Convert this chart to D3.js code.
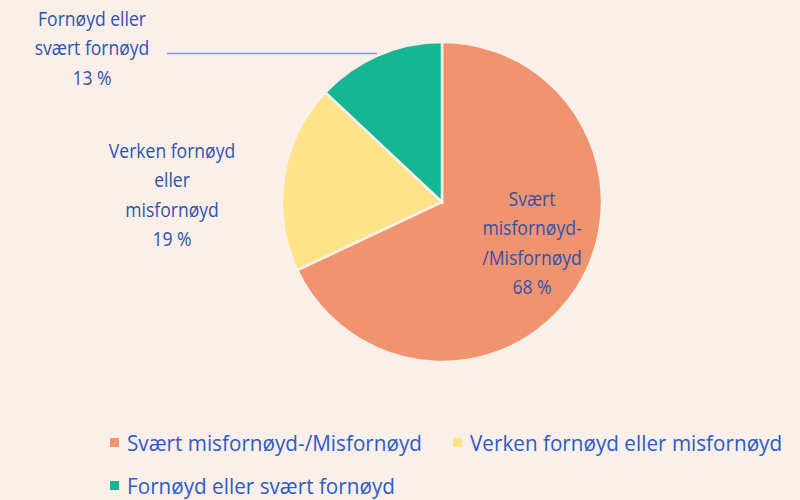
<!DOCTYPE html>
<html>
<head>
<meta charset="utf-8">
<script src="https://cdn.jsdelivr.net/npm/d3@7"></script>
<style>
  body { margin: 0; background: #FAEFE9; }
  text { font-family: "Open Sans", sans-serif; }
</style>
</head>
<body>
<script>
// slice data, clockwise from 12 o'clock
const categories = ["Svært misfornøyd-/Misfornøyd", "Verken fornøyd eller misfornøyd", "Fornøyd eller svært fornøyd"];
const values = [68, 19, 13];
const colors = ["#F0936F", "#FFE389", "#15B793"];
// label lines as shown on the chart
const labelLines = [
  ["Svært", "misfornøyd-", "/Misfornøyd", "68 %"],
  ["Verken fornøyd", "eller", "misfornøyd", "19 %"],
  ["Fornøyd eller", "svært fornøyd", "13 %"]
];

const W = 800, H = 500;
const cx = 442, cy = 202, r = 160;

const svg = d3.select("body").append("svg")
  .attr("width", W).attr("height", H);

svg.append("rect").attr("width", W).attr("height", H).attr("fill", "#FAEFE9");

const pie = d3.pie().sort(null).value(d => d);
const arcs = pie(values);
const arc = d3.arc().innerRadius(0).outerRadius(r);

const g = svg.append("g").attr("transform", "translate(" + cx + "," + cy + ")");
g.selectAll("path")
  .data(arcs).enter().append("path")
    .attr("d", arc)
    .attr("fill", (d, i) => colors[i])
    .attr("stroke", "#FAEFE9")
    .attr("stroke-width", 2.5);

// label anchors (centre x, first line y); squeezed a bit to look like Calibri
const labelPos = [[532, 206], [172, 158], [92, 26]];
const lineH = 29.5;
labelLines.forEach((lines, i) => {
  const t = svg.append("text")
    .attr("transform", "translate(" + labelPos[i][0] + "," + labelPos[i][1] + ") scale(0.9,1)")
    .attr("text-anchor", "middle")
    .attr("font-size", 19.5)
    .attr("fill", "#2F53AE");
  lines.forEach((s, j) => {
    t.append("tspan")
      .attr("x", 0)
      .attr("y", j * lineH)
      .text(s);
  });
});

// leader line for the small slice
svg.append("line")
  .attr("x1", 167).attr("y1", 53.5)
  .attr("x2", 377).attr("y2", 53.5)
  .attr("stroke", "#7EA1E6")
  .attr("stroke-width", 1.5);

// legend
const legendPos = [[110, 451], [453, 451], [110, 494]];
const legend = svg.append("g");
categories.forEach((c, i) => {
  legend.append("rect")
    .attr("x", legendPos[i][0]).attr("y", legendPos[i][1] - 13)
    .attr("width", 9).attr("height", 9)
    .attr("fill", colors[i]);
  legend.append("text")
    .attr("transform", "translate(" + (legendPos[i][0] + 17) + "," + legendPos[i][1] + ") scale(0.92,1)")
    .attr("font-size", 22.5)
    .attr("fill", "#2F5BC6")
    .text(c);
});
</script>
</body>
</html>
